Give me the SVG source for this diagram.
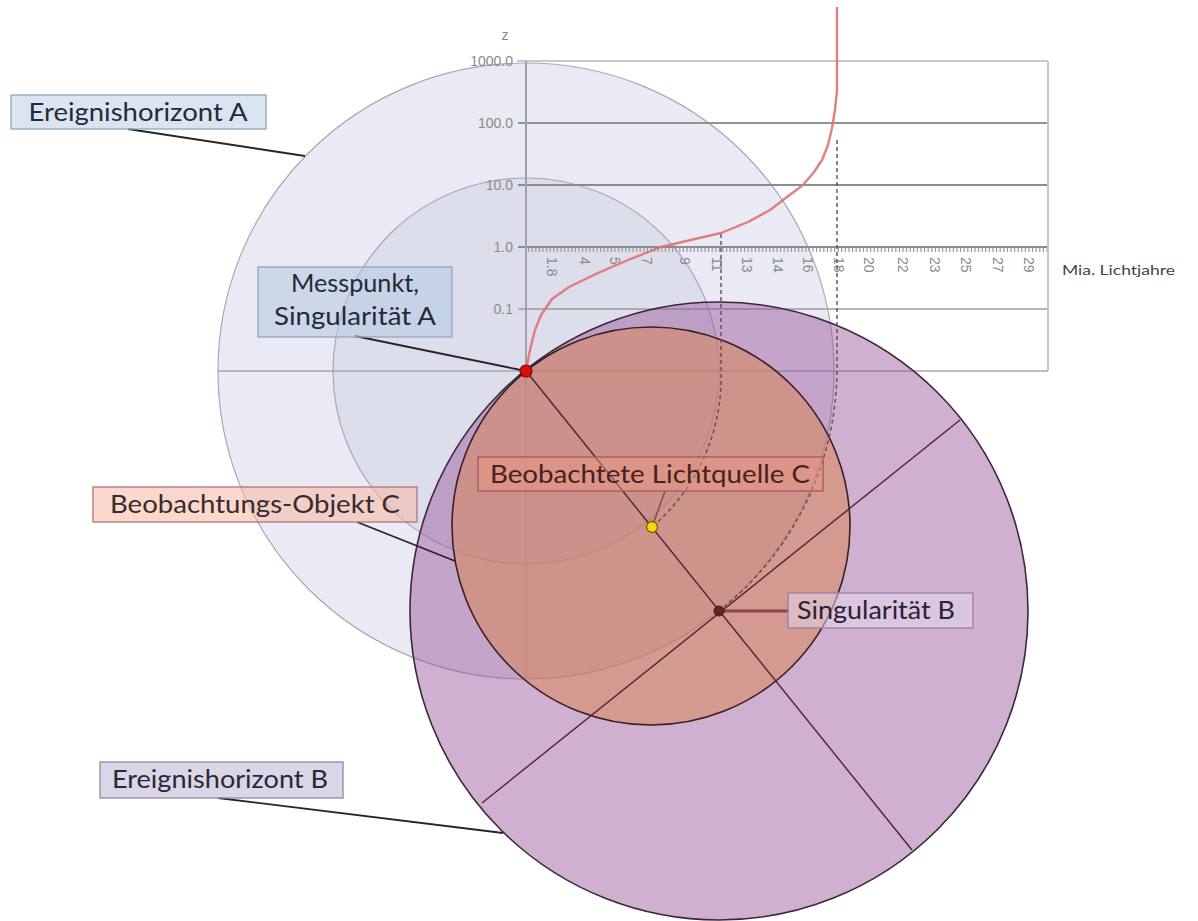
<svg xmlns="http://www.w3.org/2000/svg" width="1198" height="921" viewBox="0 0 1198 921">
<style>
.lbl{font-family:Lato,"Open Sans","DejaVu Sans",sans-serif;font-size:25px;text-anchor:middle}
.ax{font-family:"Liberation Sans",Arial,sans-serif;font-size:14px;fill:#8a8a8a}
.xt{font-family:"Liberation Sans",Arial,sans-serif;font-size:14px;fill:#8a8a8a}
.lead{stroke:#262626;stroke-width:1.8;fill:none}
.dash{stroke:#5a4852;stroke-width:1.6;fill:none;stroke-dasharray:4 3;opacity:0.85}
.dia{stroke:#4a2630;stroke-width:1.4;fill:none}
</style>
<rect width="1198" height="921" fill="#ffffff"/>
<g id="horizonA">
<circle cx="526" cy="371" r="308" fill="#e9eaf3" stroke="#a6a8b8" stroke-width="1.2"/>
<circle cx="526" cy="371" r="193" fill="#dcdeeb" stroke="#a6a8b8" stroke-width="1.2"/>
</g>
<g id="chart">
<line x1="517" y1="61" x2="1048" y2="61" stroke="#c8c8c8" stroke-width="2"/>
<line x1="518" y1="123" x2="1048" y2="123" stroke="#929292" stroke-width="2"/>
<line x1="518" y1="185" x2="1048" y2="185" stroke="#8c8c8c" stroke-width="2"/>
<line x1="518" y1="247" x2="1048" y2="247" stroke="#8c8c8c" stroke-width="2"/>
<line x1="528" y1="250" x2="1048" y2="250" stroke="#9a9a9a" stroke-width="4" stroke-dasharray="1.2 2.4"/>
<line x1="518" y1="309" x2="1048" y2="309" stroke="#9c9c9c" stroke-width="1.6"/>
<line x1="1048" y1="61" x2="1048" y2="371" stroke="#c8c8c8" stroke-width="2"/>
<line x1="218" y1="371" x2="1048" y2="371" stroke="#a4a6b4" stroke-width="1.4"/>
<line x1="526" y1="61" x2="526" y2="371" stroke="#a0a0a6" stroke-width="2"/>
<line x1="526" y1="371" x2="526" y2="679" stroke="#a8aab8" stroke-width="1.1"/>
<text class="ax" x="505" y="40" font-size="13" text-anchor="middle">z</text>
<text class="ax" x="513" y="66" text-anchor="end">1000.0</text>
<text class="ax" x="513" y="128" text-anchor="end">100.0</text>
<text class="ax" x="513" y="190" text-anchor="end">10.0</text>
<text class="ax" x="513" y="252" text-anchor="end">1.0</text>
<text class="ax" x="513" y="314" text-anchor="end">0.1</text>
<g class="xt">
<text transform="translate(547,257) rotate(90)">1.8</text>
<text transform="translate(580,257) rotate(90)">4</text>
<text transform="translate(610,257) rotate(90)">5</text>
<text transform="translate(642,257) rotate(90)">7</text>
<text transform="translate(680,257) rotate(90)">9</text>
<text transform="translate(712,257) rotate(90)">11</text>
<text transform="translate(742,257) rotate(90)">13</text>
<text transform="translate(773,257) rotate(90)">14</text>
<text transform="translate(803,257) rotate(90)">16</text>
<text transform="translate(834,257) rotate(90)">18</text>
<text transform="translate(864,257) rotate(90)">20</text>
<text transform="translate(898,257) rotate(90)">22</text>
<text transform="translate(930,257) rotate(90)">23</text>
<text transform="translate(961,257) rotate(90)">25</text>
<text transform="translate(993,257) rotate(90)">27</text>
<text transform="translate(1024,257) rotate(90)">29</text>
</g>
<text x="1062" y="275" font-family="Lato,'Open Sans',sans-serif" font-size="14" fill="#444" textLength="113" lengthAdjust="spacingAndGlyphs">Mia. Lichtjahre</text>
<polyline points="526,371 530,350 535,330 541,315 552,299 569,287 598,273 628,260 661,247 695,239 721,233 748,222 770,210 787,197 803,185 814,172 822,160 828,145 832,128 835,110 837,90 837,7" fill="none" stroke="#e27070" stroke-width="2.4" stroke-linejoin="round" opacity="0.9"/>
</g>
<g id="horizonB">
<circle cx="719" cy="611" r="309" fill="#965096" fill-opacity="0.45" stroke="#3a2838" stroke-width="1.6"/>
</g>
<g id="objectC">
<circle cx="651" cy="526" r="199" fill="#d7875a" fill-opacity="0.55" stroke="#3a2020" stroke-width="1.6"/>
</g>
<g id="connectors">
<line class="dia" x1="526" y1="371" x2="912" y2="850"/>
<line class="dia" x1="482" y1="803" x2="960" y2="420"/>
<path class="dash" d="M721,234 V371 A197,197 0 0 1 652,527"/>
<path class="dash" d="M837,140 V371 A310,310 0 0 1 719,611"/>
<line class="lead" x1="128" y1="129" x2="305" y2="156"/>
<line class="lead" x1="355" y1="336" x2="526" y2="371"/>
<line class="lead" x1="357" y1="522" x2="455" y2="561"/>
<line x1="665" y1="491" x2="652" y2="527" stroke="#8a4a4a" stroke-width="1.5"/>
<line x1="719" y1="611" x2="789" y2="611" stroke="#8a4848" stroke-width="3"/>
<line class="lead" x1="218" y1="798" x2="503" y2="833"/>
</g>
<g id="pointA"><circle cx="526" cy="371" r="6" fill="#e00c0c" stroke="#7a0a0a" stroke-width="1.2"/></g>
<g id="pointC"><circle cx="652" cy="527" r="5.5" fill="#f4d60a" stroke="#7a5a00" stroke-width="1.3"/></g>
<g id="pointB"><circle cx="719" cy="611" r="5" fill="#6a2412" stroke="#4a1a0a" stroke-width="1"/></g>
<g id="label-horizonA">
<rect x="11" y="95" width="255" height="34" fill="#b8cce4" fill-opacity="0.5" stroke="#8ea6c4" stroke-width="1.3"/>
<text class="lbl" x="138" y="121" fill="#262a36" textLength="219" lengthAdjust="spacingAndGlyphs">Ereignishorizont A</text>
</g>
<g id="label-messpunkt">
<rect x="258" y="267" width="194" height="70" fill="#b4c8e2" fill-opacity="0.55" stroke="#8ea6c4" stroke-width="1.3"/>
<text class="lbl" x="355" y="292" fill="#262a36" textLength="128" lengthAdjust="spacingAndGlyphs">Messpunkt,</text>
<text class="lbl" x="355" y="325" fill="#262a36" textLength="162" lengthAdjust="spacingAndGlyphs">Singularität A</text>
</g>
<g id="label-objektC">
<rect x="93" y="487" width="324" height="35" fill="#f6b8a4" fill-opacity="0.55" stroke="#b47474" stroke-width="1.3"/>
<text class="lbl" x="255" y="513" fill="#3a2a2a" textLength="290" lengthAdjust="spacingAndGlyphs">Beobachtungs-Objekt C</text>
</g>
<g id="label-lichtquelleC">
<rect x="478" y="457" width="345" height="34" fill="#ee9a86" fill-opacity="0.45" stroke="#a85858" stroke-width="1.3"/>
<text class="lbl" x="650" y="483" fill="#4a2020" textLength="320" lengthAdjust="spacingAndGlyphs">Beobachtete Lichtquelle C</text>
</g>
<g id="label-singB">
<rect x="788" y="593" width="185" height="35" fill="#e6dcf0" fill-opacity="0.5" stroke="#9280aa" stroke-width="1.3"/>
<text class="lbl" x="876" y="619" fill="#2a2236" textLength="158" lengthAdjust="spacingAndGlyphs">Singularität B</text>
</g>
<g id="label-horizonB">
<rect x="100" y="762" width="243" height="36" fill="#c2bad8" fill-opacity="0.6" stroke="#8d86a8" stroke-width="1.3"/>
<text class="lbl" x="220" y="788" fill="#262a36" textLength="216" lengthAdjust="spacingAndGlyphs">Ereignishorizont B</text>
</g>
</svg>
